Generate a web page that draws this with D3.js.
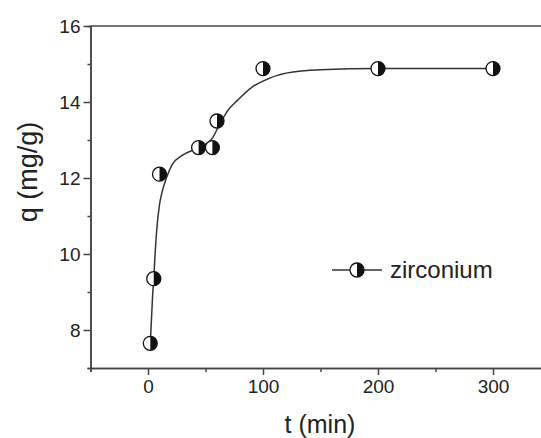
<!DOCTYPE html>
<html>
<head>
<meta charset="utf-8">
<script src="https://cdn.jsdelivr.net/npm/d3@7"></script>
<style>
    body { margin: 0; background: #fff; }
    svg { display: block; font-family: Arial, "Liberation Sans", sans-serif; }
    .axis path, .axis line { stroke: #444; stroke-width: 1.5px; }
    .axis text { fill: #222; font-size: 19px; }
</style>
</head>
<body>
<script>
// measured points: time (min) and q (mg/g)
var times = [2, 5, 10, 44, 56, 60, 100, 200, 300];
var qValues = [7.65, 9.35, 12.1, 12.8, 12.8, 13.5, 14.88, 14.88, 14.88];

// fitted curve
var fitTimes = [2, 4, 5, 6, 7.5, 10, 12, 16, 21, 30, 44, 56, 62, 70, 78,
    90, 100, 120, 150, 200, 300];
var fitQ = [7.65, 8.9, 9.35, 9.9, 10.6, 11.3, 11.6, 12.0, 12.35, 12.6, 12.8,
    13.05, 13.4, 13.8, 14.05, 14.38, 14.55, 14.76, 14.85, 14.88, 14.88];

var xMajor = [0, 100, 200, 300];
var xMinor = [-50, 50, 150, 250];
var yMajor = [8, 10, 12, 14, 16];
var yMinor = [7, 9, 11, 13, 15];
var seriesName = "zirconium";

var W = 541, H = 438;
var x = d3.scaleLinear().domain([-50, 350]).range([90.5, 550.5]);
var y = d3.scaleLinear().domain([7, 16]).range([368, 26]);

var svg = d3.select("body").append("svg")
    .attr("width", W)
    .attr("height", H);

// minor ticks first, majors with labels on top
svg.append("g")
    .attr("class", "axis")
    .attr("transform", "translate(0," + y(7) + ")")
    .call(d3.axisBottom(x).tickValues(xMinor).tickSize(4).tickFormat(""));
svg.append("g")
    .attr("class", "axis")
    .attr("transform", "translate(0," + y(7) + ")")
    .call(d3.axisBottom(x).tickValues(xMajor).tickSize(7).tickPadding(5)
        .tickSizeOuter(0));

svg.append("g")
    .attr("class", "axis")
    .attr("transform", "translate(" + x(-50) + ",0)")
    .call(d3.axisLeft(y).tickValues(yMinor).tickSize(3).tickFormat(""));
svg.append("g")
    .attr("class", "axis")
    .attr("transform", "translate(" + x(-50) + ",0)")
    .call(d3.axisLeft(y).tickValues(yMajor).tickSize(7).tickPadding(3)
        .tickSizeOuter(0));

// top frame line
svg.append("line")
    .attr("x1", x(-50)).attr("x2", x(350))
    .attr("y1", y(16)).attr("y2", y(16))
    .style("stroke", "#444")
    .style("stroke-width", "1.5px");

// fitted curve
var fit = fitTimes.map(function(t, i){ return [t, fitQ[i]]; });
svg.append("path")
    .datum(fit)
    .attr("d", d3.line()
        .x(function(d){ return x(d[0]); })
        .y(function(d){ return y(d[1]); })
        .curve(d3.curveMonotoneX))
    .style("fill", "none")
    .style("stroke", "#333")
    .style("stroke-width", "1.5px");

// half filled circle marker
var r = 7;
var halfArc = d3.arc().innerRadius(0).outerRadius(r)
    .startAngle(0).endAngle(Math.PI);

function marker(g){
    g.append("circle")
        .attr("r", r)
        .style("fill", "#fff")
        .style("stroke", "#111")
        .style("stroke-width", "1.3px");
    g.append("path")
        .attr("d", halfArc())
        .style("fill", "#111");
}

times.forEach(function(t, i){
    var g = svg.append("g")
        .attr("transform", "translate(" + x(t) + "," + y(qValues[i]) + ")");
    marker(g);
});

// legend
var lg = svg.append("g").attr("transform", "translate(357,270)");
lg.append("line")
    .attr("x1", -25).attr("x2", 25)
    .style("stroke", "#333")
    .style("stroke-width", "1.5px");
marker(lg);
lg.append("text")
    .text(seriesName)
    .attr("x", 33)
    .attr("y", 8)
    .style("font-size", "24px")
    .style("fill", "#222");

// axis titles
svg.append("text")
    .text("t (min)")
    .attr("x", 320)
    .attr("y", 433)
    .attr("text-anchor", "middle")
    .style("font-size", "25px")
    .style("fill", "#222");

svg.append("text")
    .text("q (mg/g)")
    .attr("transform", "translate(37,172) rotate(-90)")
    .attr("text-anchor", "middle")
    .style("font-size", "27px")
    .style("fill", "#222");
</script>
</body>
</html>
